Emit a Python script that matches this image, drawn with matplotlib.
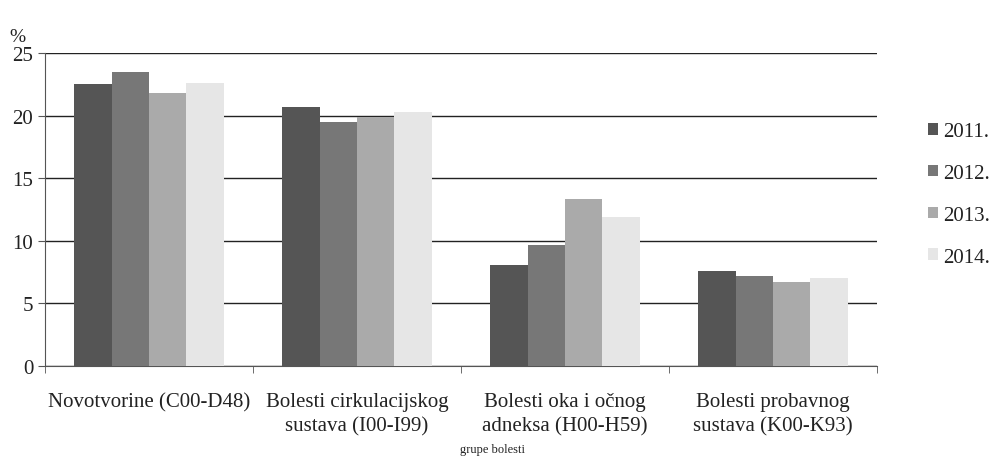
import matplotlib
matplotlib.use("Agg")
import matplotlib.pyplot as plt
import numpy as np

plt.rcParams['font.family'] = ['Liberation Serif', 'DejaVu Serif']

categories = ["Novotvorine (C00-D48)", "Bolesti cirkulacijskog\nsustava (I00-I99)",
              "Bolesti oka i očnog\nadneksa (H00-H59)", "Bolesti probavnog\nsustava (K00-K93)"]
years = ["2011.", "2012.", "2013.", "2014."]
v2011 = [22.5, 20.7, 8.1, 7.6]
v2012 = [23.5, 19.5, 9.7, 7.2]
v2013 = [21.8, 19.9, 13.3, 6.7]
v2014 = [22.6, 20.3, 11.9, 7.0]
series = [v2011, v2012, v2013, v2014]
colors = ["#555555", "#777777", "#aaaaaa", "#e6e6e6"]

fig = plt.figure(figsize=(9.93, 4.64), dpi=100)
ax = fig.add_axes([45/993, 1-367/464, (877-45)/993, (367-54)/464])

x = np.arange(len(categories))
w = 0.18
for i, (vals, c, lab) in enumerate(zip(series, colors, years)):
    ax.bar(x + (i - 1.5) * w, vals, width=w, color=c, label=lab, zorder=3)

ax.set_xlim(-0.5, 3.5)
ax.set_ylim(0, 25)
ax.set_yticks([0, 5, 10, 15, 20, 25])
ax.yaxis.grid(True, color="#222222", linewidth=1.0, zorder=0)
ax.set_axisbelow(True)
for s in ["top", "right"]:
    ax.spines[s].set_visible(False)
ax.spines["left"].set_color("#555555")
ax.spines["bottom"].set_color("#555555")
ax.set_xticks(x)
ax.set_xticklabels(categories, fontsize=15, color="#222222", linespacing=1.35)
ax.tick_params(axis="x", length=0, pad=19)
ax.set_xticks(np.arange(-0.5, 4.0, 1.0), minor=True)
ax.tick_params(axis="x", which="minor", length=5, color="#555555")
ax.tick_params(axis="y", labelsize=15, length=5, color="#555555", labelcolor="#222222")

fig.text(17/993, 1-37/464, "%", fontsize=14, ha="center", va="center", color="#222222")
fig.text(493/993, 1-450/464, "grupe bolesti", fontsize=9, ha="center", va="center", color="#222222")

fig.legend(loc="upper left", bbox_to_anchor=(928/993, 1-123/464), frameon=False,
           fontsize=15, handlelength=0.5, handleheight=0.5, handletextpad=0.25,
           labelspacing=1.1, borderaxespad=0, borderpad=0, labelcolor="#222222")

fig.savefig("out.png", dpi=100)
